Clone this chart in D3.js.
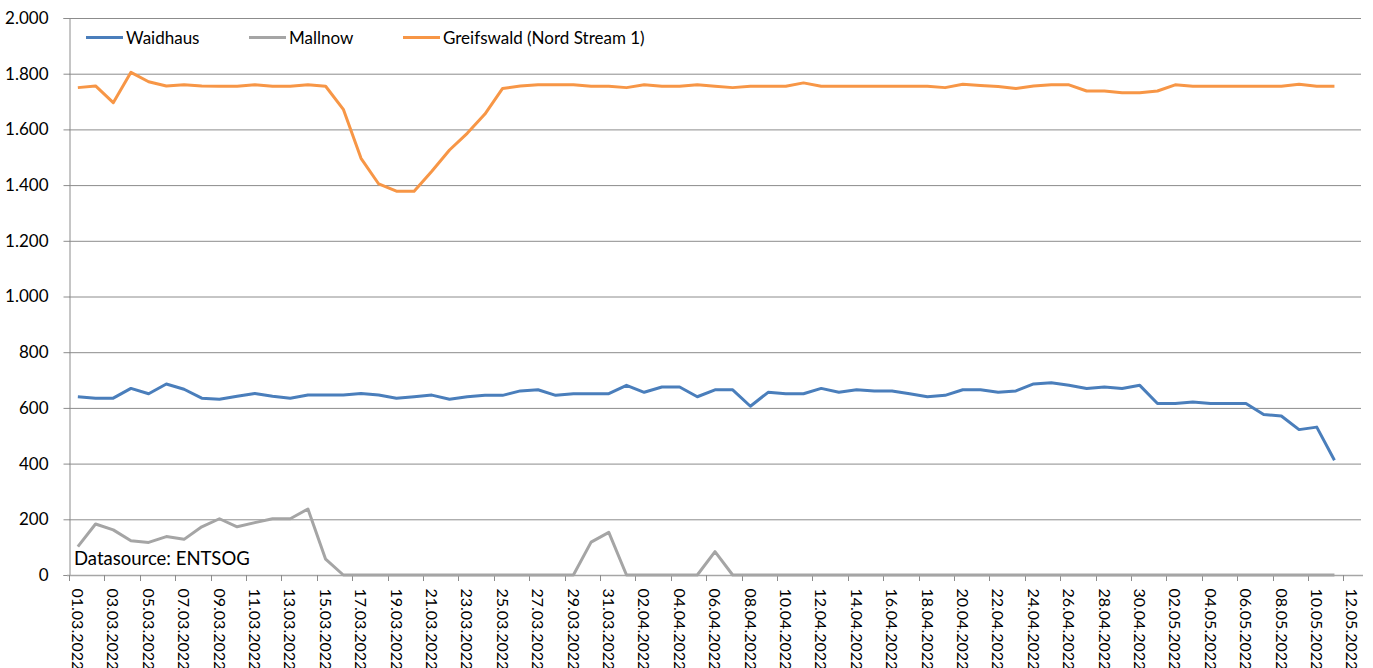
<!DOCTYPE html>
<html>
<head>
<meta charset="utf-8">
<script src="https://cdn.jsdelivr.net/npm/d3@7"></script>
<style>
  html, body { margin: 0; padding: 0; background: #fff; }
  svg { display: block; }
  text { font-family: Lato, "Open Sans", sans-serif; fill: #000; }
</style>
</head>
<body>
<svg id="chart" width="1373" height="668"></svg>
<script>
const dates = [
  "01.03.2022","02.03.2022","03.03.2022","04.03.2022","05.03.2022","06.03.2022","07.03.2022","08.03.2022","09.03.2022","10.03.2022",
  "11.03.2022","12.03.2022","13.03.2022","14.03.2022","15.03.2022","16.03.2022","17.03.2022","18.03.2022","19.03.2022","20.03.2022",
  "21.03.2022","22.03.2022","23.03.2022","24.03.2022","25.03.2022","26.03.2022","27.03.2022","28.03.2022","29.03.2022","30.03.2022",
  "31.03.2022","01.04.2022","02.04.2022","03.04.2022","04.04.2022","05.04.2022","06.04.2022","07.04.2022","08.04.2022","09.04.2022",
  "10.04.2022","11.04.2022","12.04.2022","13.04.2022","14.04.2022","15.04.2022","16.04.2022","17.04.2022","18.04.2022","19.04.2022",
  "20.04.2022","21.04.2022","22.04.2022","23.04.2022","24.04.2022","25.04.2022","26.04.2022","27.04.2022","28.04.2022","29.04.2022",
  "30.04.2022","01.05.2022","02.05.2022","03.05.2022","04.05.2022","05.05.2022","06.05.2022","07.05.2022","08.05.2022","09.05.2022",
  "10.05.2022","11.05.2022","12.05.2022"
];

const waidhaus = [
  640,635,635,670,651,686,667,635,631,642,
  652,642,635,646,646,646,652,646,635,640,
  646,631,640,645,645,661,665,645,651,651,
  651,681,656,675,675,640,665,665,606,656,
  651,651,670,656,665,661,661,651,640,645,
  665,665,656,661,686,690,681,670,675,670,
  681,616,616,621,616,616,616,576,571,522,
  531,412
];

const mallnow = [
  102,183,162,123,117,138,128,173,202,173,
  188,202,202,237,57,0,0,0,0,0,
  0,0,0,0,0,0,0,0,0,118,
  153,0,0,0,0,0,84,0,0,0,
  0,0,0,0,0,0,0,0,0,0,
  0,0,0,0,0,0,0,0,0,0,
  0,0,0,0,0,0,0,0,0,0,
  0,0
];

const greifswald = [
  1750,1756,1696,1805,1771,1756,1760,1756,1755,1755,
  1760,1755,1755,1760,1755,1672,1496,1404,1378,1378,
  1450,1526,1586,1655,1747,1756,1760,1760,1760,1755,
  1755,1750,1760,1755,1755,1760,1755,1750,1755,1755,
  1755,1767,1755,1755,1755,1755,1755,1755,1755,1750,
  1762,1758,1754,1747,1756,1760,1760,1738,1738,1732,
  1732,1738,1760,1755,1755,1755,1755,1755,1755,1762,
  1755,1755
];

const yTicks = [0,200,400,600,800,1000,1200,1400,1600,1800,2000];
const seriesNames = ["Waidhaus", "Mallnow", "Greifswald (Nord Stream 1)"];
const seriesColors = ["#4a7ebb", "#a5a5a5", "#f79646"];
const sourceNote = "Datasource: ENTSOG";

const svg = d3.select("#chart");
const mLeft = 69, mRight = 1361, mTop = 18, mBottom = 575;

const x = d3.scaleBand().domain(dates).range([mLeft, mRight]).padding(0);
const y = d3.scaleLinear().domain([0, 2000]).range([mBottom, mTop]);

const de = d3.formatLocale({decimal: ",", thousands: ".", grouping: [3], currency: ["", " €"]});
const fmt = de.format(",");

// gridlines
svg.append("g")
  .selectAll("line")
  .data(yTicks.filter(d => d > 0))
  .join("line")
  .attr("x1", mLeft).attr("x2", mRight)
  .attr("y1", d => y(d) + 0.5).attr("y2", d => y(d) + 0.5)
  .attr("stroke", "#8c8c8c").attr("stroke-width", 1);

// y axis
const yAxis = svg.append("g")
  .attr("transform", `translate(${mLeft + 0.5},0)`)
  .call(d3.axisLeft(y).tickValues(yTicks).tickFormat(fmt).tickSize(6).tickPadding(15));
yAxis.select(".domain").attr("stroke", "#8c8c8c");
yAxis.selectAll(".tick line").attr("stroke", "#8c8c8c");
yAxis.selectAll("text").style("font-size", "17px").attr("fill", "#000");

// x axis labels
const labelDates = dates.filter((d, i) => i % 2 === 0);
const xAxis = svg.append("g")
  .attr("transform", `translate(0,${mBottom + 0.5})`)
  .call(d3.axisBottom(x).tickValues(labelDates).tickSize(0).tickSizeOuter(0));
xAxis.select(".domain").remove();
xAxis.selectAll("text")
  .attr("transform", "rotate(90)")
  .attr("x", 13).attr("y", 0).attr("dy", "0.36em")
  .attr("text-anchor", "start")
  .style("font-size", "16px").attr("fill", "#000");

// x axis line and boundary ticks
svg.append("line")
  .attr("x1", mLeft - 2).attr("x2", mRight + 2)
  .attr("y1", mBottom + 0.5).attr("y2", mBottom + 0.5)
  .attr("stroke", "#a6a6a6").attr("stroke-width", 1.3);
svg.append("g")
  .selectAll("line")
  .data(labelDates)
  .join("line")
  .attr("x1", d => Math.round(x(d)) + 0.5).attr("x2", d => Math.round(x(d)) + 0.5)
  .attr("y1", mBottom).attr("y2", mBottom + 6)
  .attr("stroke", "#8c8c8c");

// lines
const series = [waidhaus, mallnow, greifswald];
const line = d3.line()
  .x((d, i) => x(dates[i]) + x.bandwidth() / 2)
  .y(d => y(d));

[1, 0, 2].forEach(k => {
  svg.append("path")
    .datum(series[k])
    .attr("fill", "none")
    .attr("stroke", seriesColors[k])
    .attr("stroke-width", 3)
    .attr("stroke-linejoin", "round")
    .attr("d", line);
});

// legend
const legendX = [86, 249, 403];
const legend = svg.append("g");
seriesNames.forEach((n, k) => {
  legend.append("line")
    .attr("x1", legendX[k]).attr("x2", legendX[k] + 37)
    .attr("y1", 37.5).attr("y2", 37.5)
    .attr("stroke", seriesColors[k]).attr("stroke-width", 3);
  legend.append("text")
    .attr("x", legendX[k] + 40).attr("y", 43.5)
    .style("font-size", "17px")
    .text(n);
});

// source note
svg.append("text")
  .attr("x", 74).attr("y", 565)
  .style("font-size", "18.5px")
  .text(sourceNote);
</script>
</body>
</html>
